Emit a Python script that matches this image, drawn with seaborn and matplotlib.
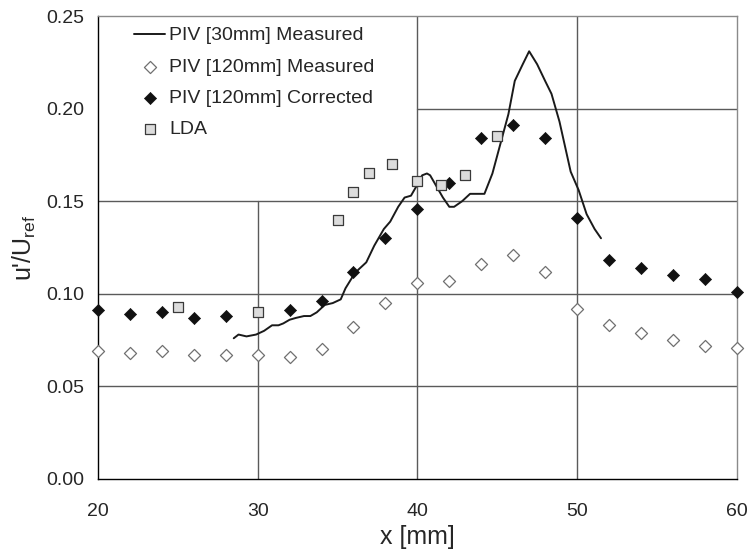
import matplotlib
matplotlib.use("Agg")
import matplotlib.pyplot as plt
import seaborn as sns

# PIV 30 mm window, measured (continuous line)
piv30_x = [28.5, 28.8, 29.3, 29.9, 30.4, 30.9, 31.3, 31.6, 32.0, 32.4, 32.9, 33.3,
           33.7, 34.2, 34.7, 35.2, 35.5, 36.0, 36.3, 36.8, 37.3, 37.9, 38.3, 38.8,
           39.2, 39.6, 40.0, 40.3, 40.6, 40.8, 41.2, 41.6, 42.0, 42.3, 42.8, 43.3,
           44.2, 44.7, 45.2, 45.7, 46.1, 46.6, 47.0, 47.5, 48.0, 48.4, 48.9, 49.6,
           50.1, 50.6, 51.1, 51.5]
piv30_y = [0.076, 0.078, 0.077, 0.078, 0.080, 0.083, 0.083, 0.084, 0.086, 0.087, 0.088, 0.088,
           0.090, 0.094, 0.095, 0.097, 0.103, 0.110, 0.113, 0.117, 0.126, 0.135, 0.139, 0.147,
           0.152, 0.153, 0.159, 0.164, 0.165, 0.164, 0.158, 0.152, 0.147, 0.147, 0.150, 0.154,
           0.154, 0.165, 0.181, 0.197, 0.215, 0.224, 0.231, 0.224, 0.215, 0.208, 0.193, 0.166,
           0.156, 0.143, 0.135, 0.130]

# PIV 120 mm window, every 2 mm (corrected point at 30 mm hidden under LDA square)
piv120_x = [20, 22, 24, 26, 28, 30, 32, 34, 36, 38, 40, 42, 44, 46, 48, 50, 52, 54, 56, 58, 60]
piv120_meas = [0.069, 0.068, 0.069, 0.067, 0.067, 0.067, 0.066, 0.070, 0.082, 0.095, 0.106,
               0.107, 0.116, 0.121, 0.112, 0.092, 0.083, 0.079, 0.075, 0.072, 0.071]
piv120_corr = [0.091, 0.089, 0.090, 0.087, 0.088, float('nan'), 0.091, 0.096, 0.112, 0.130, 0.146,
               0.160, 0.184, 0.191, 0.184, 0.141, 0.118, 0.114, 0.110, 0.108, 0.101]

# LDA reference
lda_x = [25, 30, 35, 36, 37, 38.4, 40, 41.5, 43, 45]
lda_y = [0.093, 0.090, 0.140, 0.155, 0.165, 0.170, 0.161, 0.159, 0.164, 0.185]

sns.set_theme(style="white")
plt.rcParams['font.family'] = ['Liberation Sans', 'DejaVu Sans']
plt.rcParams['mathtext.default'] = 'regular'

fig = plt.figure(figsize=(7.51, 5.55), dpi=100)
ax = fig.add_axes([0.1305, 0.137, 0.8505, 0.834])

# partial grid, as in the original (legend area left blank)
grid_kw = dict(color='#5a5a5a', lw=1.0, zorder=0.5)
ax.axhline(0.05, **grid_kw)
ax.axhline(0.10, **grid_kw)
ax.axhline(0.15, **grid_kw)
ax.axhline(0.20, xmin=0.5, **grid_kw)
ax.axvline(30, ymax=0.6, **grid_kw)
ax.axvline(40, **grid_kw)
ax.axvline(50, **grid_kw)

sns.lineplot(x=piv30_x, y=piv30_y, ax=ax, color='#1a1a1a', lw=1.4,
             label='PIV [30mm] Measured', zorder=3)
sns.scatterplot(x=piv120_x, y=piv120_meas, ax=ax, marker='D', s=38,
                color='white', edgecolor='#707070', linewidth=0.9,
                label='PIV [120mm] Measured', zorder=4, clip_on=False)
sns.scatterplot(x=piv120_x, y=piv120_corr, ax=ax, marker='D', s=38,
                color='#111111', edgecolor='#111111', linewidth=0.5,
                label='PIV [120mm] Corrected', zorder=4, clip_on=False)
sns.scatterplot(x=lda_x, y=lda_y, ax=ax, marker='s', s=50,
                color='#dcdcdc', edgecolor='#3a3a3a', linewidth=0.9,
                label='LDA', zorder=5)

ax.set_xlim(20, 60)
ax.set_ylim(0, 0.25)
ax.set_xticks([20, 30, 40, 50, 60])
ax.set_yticks([0.0, 0.05, 0.10, 0.15, 0.20, 0.25])
ax.set_yticklabels([f"{v:.2f}" for v in [0.0, 0.05, 0.10, 0.15, 0.20, 0.25]])
ax.tick_params(axis='both', labelsize=14, length=4, width=1, color='black', direction='out')
ax.tick_params(axis='x', pad=13)
ax.tick_params(axis='y', pad=6)

for side in ['left', 'bottom']:
    ax.spines[side].set_color('black')
    ax.spines[side].set_linewidth(1.0)
for side in ['top', 'right']:
    ax.spines[side].set_color('#8a8a8a')
    ax.spines[side].set_linewidth(1.0)

ax.set_xlabel('x [mm]', fontsize=18, labelpad=4)
ax.set_ylabel("u'/U$_{ref}$", fontsize=18, labelpad=6)

ax.legend(loc='upper left', bbox_to_anchor=(0.04, 1.0), frameon=False, fontsize=14,
          handlelength=1.6, handletextpad=0.2, labelspacing=0.7, borderpad=0.05)

plt.savefig('out.png', dpi=100)
plt.close()
